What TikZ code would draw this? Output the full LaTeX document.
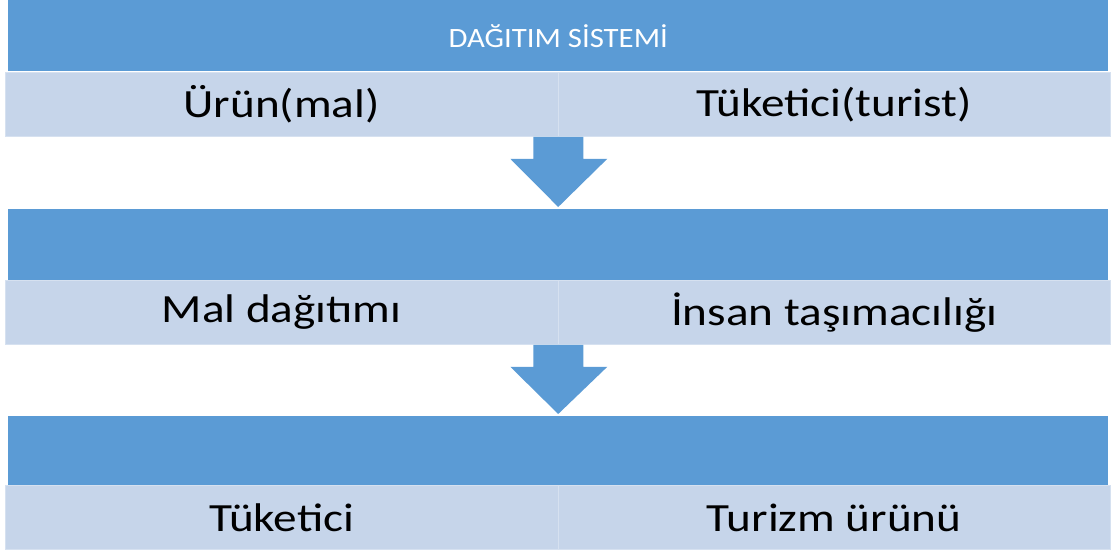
\documentclass[tikz,border=0pt]{standalone}
\usepackage{fontspec}
\setmainfont{Carlito}
\usetikzlibrary{calc}
\definecolor{bandblue}{HTML}{5B9BD5}
\definecolor{celllight}{HTML}{C6D5EA}
\definecolor{celledge}{HTML}{D6E1F0}
% slightly wide-set lettering used in the chart
\newcommand{\widetext}[1]{\scalebox{1.18}[1]{#1}}
\newcommand{\headtext}[1]{\scalebox{1.1}[1]{#1}}

\begin{document}
\begin{tikzpicture}[x=1pt,y=-1pt,
  band/.style={fill=bandblue, draw=none, inner sep=0pt,
    minimum width=1100pt, minimum height=71pt, anchor=north west,
    text=white, font=\fontsize{28}{32}\selectfont},
  cell/.style={fill=celllight, draw=celledge, line width=0.8pt, inner sep=0pt,
    minimum width=552.5pt, minimum height=64pt, anchor=north west,
    text=black, font=\fontsize{40}{46}\selectfont}]

\useasboundingbox (0,0) rectangle (1115,554);

% first tier
\node[band] (b1) at (8,0) {\headtext{DAĞITIM SİSTEMİ}};
\node[cell] (l1) at (5,72) {\widetext{Ürün(mal)}};
\node[cell] (r1) at (557.5,72) {\widetext{Tüketici(turist)}};

% second tier
\node[band] (b2) at (8,209) {};
\node[cell] (l2) at (5,280) {\widetext{Mal dağıtımı}};
\node[cell] (r2) at (557.5,280) {\widetext{İnsan taşımacılığı}};

% third tier
\node[band] (b3) at (8,416) {};
\node[cell] (l3) at (5,485) {\widetext{Tüketici}};
\node[cell] (r3) at (557.5,485) {\widetext{Turizm ürünü}};

% block arrows between the tiers
\foreach \top/\tip in {l1.south east/b2.north, l2.south east/b3.north}{
  \fill[bandblue] ($(\top)+(-25,0)$) -- ($(\top)+(25,0)$) -- ($(\top)+(25,22)$)
    -- ($(\top)+(49,22)$) -- ($(\tip)+(0,-2)$) -- ($(\top)+(-48,22)$)
    -- ($(\top)+(-25,22)$) -- cycle;
}
\end{tikzpicture}
\end{document}
